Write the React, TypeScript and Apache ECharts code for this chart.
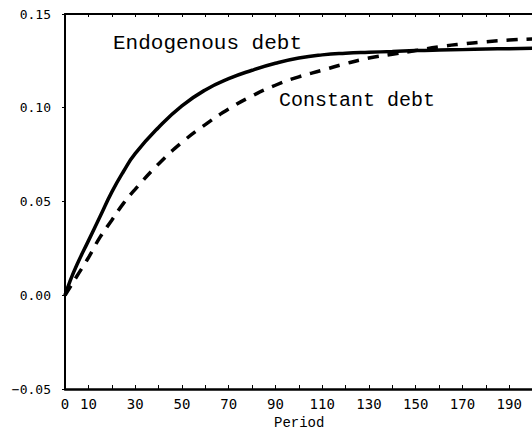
import React, { useEffect, useRef } from "react";
import * as echarts from "echarts";

const periods = [0, 2, 5, 10, 15, 20, 25, 30, 40, 50, 60, 70, 80, 90, 100, 110, 120, 130, 140, 150, 160, 170, 180, 190, 200, 210];
const endogenousDebt = [0.0, 0.007, 0.016, 0.029, 0.042, 0.055, 0.066, 0.0755, 0.0895, 0.101, 0.1095, 0.1155, 0.12, 0.1237, 0.1265, 0.1282, 0.1291, 0.1296, 0.13, 0.1305, 0.1308, 0.131, 0.1313, 0.1315, 0.1317, 0.1318];
const constantDebt = [0.0, 0.004, 0.01, 0.02, 0.031, 0.04, 0.049, 0.0565, 0.07, 0.0815, 0.091, 0.0993, 0.1063, 0.112, 0.1165, 0.12, 0.1235, 0.1265, 0.1285, 0.1305, 0.1325, 0.134, 0.1352, 0.1361, 0.1367, 0.1371];
const xLabelValues = [0, 10, 30, 50, 70, 90, 110, 130, 150, 170, 190];
const seriesLabels = ["Endogenous debt", "Constant debt"];
const xAxisName = "Period";

export default function App() {
  const ref = useRef<HTMLDivElement>(null);
  useEffect(() => {
    if (!ref.current) return;
    const chart = echarts.init(ref.current, null, { renderer: "svg" });
    const mono = "Liberation Mono";
    chart.setOption({
      animation: false,
      backgroundColor: "#ffffff",
      grid: { left: 65, top: 14, bottom: 46, right: 44 },
      xAxis: [
        {
          type: "value",
          min: 0,
          max: 210,
          interval: 10,
          axisLine: { show: true, onZero: false, lineStyle: { color: "#000", width: 2.5 } },
          axisTick: { show: true, inside: true, length: 4, lineStyle: { color: "#000", width: 1 } },
          splitLine: { show: false },
          axisLabel: {
            color: "#000",
            fontFamily: "DejaVu Sans Mono",
            fontSize: 14,
            margin: 8,
            formatter: (v: number) => (xLabelValues.includes(v) ? String(v) : ""),
          },
        },
        {
          type: "value",
          position: "top",
          min: 0,
          max: 210,
          interval: 10,
          axisLine: { show: true, onZero: false, lineStyle: { color: "#000", width: 2 } },
          axisTick: { show: true, inside: true, length: 3, lineStyle: { color: "#000", width: 1 } },
          splitLine: { show: false },
          axisLabel: { show: false },
        },
      ],
      yAxis: {
        type: "value",
        min: -0.05,
        max: 0.15,
        interval: 0.05,
        axisLine: { show: true, onZero: false, lineStyle: { color: "#000", width: 2 } },
        axisTick: { show: true, inside: false, length: 3, lineStyle: { color: "#000", width: 1 } },
        splitLine: { show: false },
        axisLabel: {
          color: "#000",
          fontFamily: "DejaVu Sans Mono",
          fontSize: 13,
          margin: 14,
          formatter: (v: number) => (v < 0 ? "\u2212" + Math.abs(v).toFixed(2) : v.toFixed(2)),
        },
      },
      series: [
        {
          type: "line",
          name: seriesLabels[0],
          data: periods.map((p, i) => [p, endogenousDebt[i]]),
          smooth: 0.5,
          showSymbol: false,
          lineStyle: { color: "#000", width: 3.5, type: "solid" },
        },
        {
          type: "line",
          name: seriesLabels[1],
          data: periods.map((p, i) => [p, constantDebt[i]]),
          smooth: 0.5,
          showSymbol: false,
          lineStyle: { color: "#000", width: 3.5, type: [11, 9] },
        },
      ],
      graphic: [
        {
          type: "text",
          left: 113,
          top: 33,
          style: { text: seriesLabels[0], font: `21px "${mono}"`, fill: "#000" },
        },
        {
          type: "text",
          left: 279,
          top: 90,
          style: { text: seriesLabels[1], font: `20px "${mono}"`, fill: "#000" },
        },
        {
          type: "text",
          left: 274,
          top: 416,
          style: { text: xAxisName, font: `14px "${mono}"`, fill: "#000" },
        },
      ],
    });
    return () => chart.dispose();
  }, []);
  return (
    <div style={{ position: "absolute", left: 0, top: 0, width: 532, height: 435, overflow: "hidden", background: "#fff" }}>
      <div ref={ref} style={{ width: 600, height: 435 }} />
    </div>
  );
}
